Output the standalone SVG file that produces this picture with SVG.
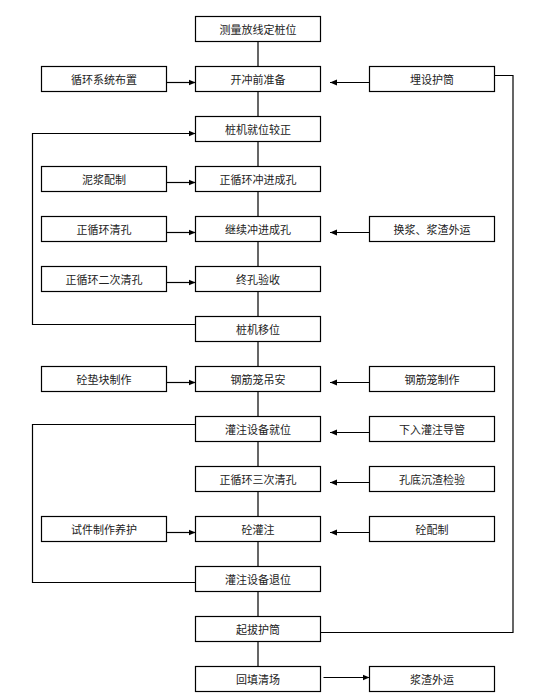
<svg xmlns="http://www.w3.org/2000/svg" width="542" height="696" viewBox="0 0 542 696">
<style>
.box rect{fill:#fff;stroke:#000;stroke-width:1.2}
.box text{font-family:"Noto Sans CJK SC","Noto Sans",sans-serif;font-size:11px;fill:#222;text-anchor:middle;dominant-baseline:central}
.conn path{fill:none;stroke:#000;stroke-width:1.2}
</style>
<defs>
<marker id="ah" markerUnits="userSpaceOnUse" markerWidth="8" markerHeight="8" viewBox="0 0 8 8" refX="7" refY="4" orient="auto">
<path d="M0,1 L7,4 L0,7 Z" fill="#000"/>
</marker>
</defs>
<g class="conn">
<path d="M258,41.5 V66.5 M258,91.5 V116.5 M258,141.5 V166.5 M258,191.5 V216.5 M258,241.5 V266.5 M258,291.5 V316.5 M258,341.5 V366.5 M258,391.5 V416.5 M258,441.5 V466.5 M258,491.5 V516.5 M258,541.5 V566.5 M258,591.5 V616.5 M258,641.5 V666.5"/>
<path d="M166.5,82.5 H195.5" marker-end="url(#ah)"/>
<path d="M166.5,182.5 H195.5" marker-end="url(#ah)"/>
<path d="M166.5,232.5 H195.5" marker-end="url(#ah)"/>
<path d="M166.5,282.5 H195.5" marker-end="url(#ah)"/>
<path d="M166.5,382.5 H195.5" marker-end="url(#ah)"/>
<path d="M166.5,532.5 H195.5" marker-end="url(#ah)"/>
<path d="M369.5,82.5 H330" marker-end="url(#ah)"/>
<path d="M369.5,232.5 H330" marker-end="url(#ah)"/>
<path d="M369.5,382.5 H330" marker-end="url(#ah)"/>
<path d="M369.5,432.5 H330" marker-end="url(#ah)"/>
<path d="M369.5,482.5 H330" marker-end="url(#ah)"/>
<path d="M369.5,532.5 H330" marker-end="url(#ah)"/>
<path d="M323.5,677.5 H369.5" marker-end="url(#ah)"/>
<path d="M195.5,324.5 H32.5 V133.5 H195.5" marker-end="url(#ah)"/>
<path d="M195.5,424.5 H32.5 V582.5 H195.5"/>
<path d="M494.5,75.5 H513 V632.5 H320.5"/>
</g>
<g id="n1" class="box"><rect x="195.5" y="16.5" width="125" height="25"/><text x="258" y="29">测量放线定桩位</text></g>
<g id="n2" class="box"><rect x="195.5" y="66.5" width="125" height="25"/><text x="258" y="79">开冲前准备</text></g>
<g id="n3" class="box"><rect x="195.5" y="116.5" width="125" height="25"/><text x="258" y="129">桩机就位较正</text></g>
<g id="n4" class="box"><rect x="195.5" y="166.5" width="125" height="25"/><text x="258" y="179">正循环冲进成孔</text></g>
<g id="n5" class="box"><rect x="195.5" y="216.5" width="125" height="25"/><text x="258" y="229">继续冲进成孔</text></g>
<g id="n6" class="box"><rect x="195.5" y="266.5" width="125" height="25"/><text x="258" y="279">终孔验收</text></g>
<g id="n7" class="box"><rect x="195.5" y="316.5" width="125" height="25"/><text x="258" y="329">桩机移位</text></g>
<g id="n8" class="box"><rect x="195.5" y="366.5" width="125" height="25"/><text x="258" y="379">钢筋笼吊安</text></g>
<g id="n9" class="box"><rect x="195.5" y="416.5" width="125" height="25"/><text x="258" y="429">灌注设备就位</text></g>
<g id="n10" class="box"><rect x="195.5" y="466.5" width="125" height="25"/><text x="258" y="479">正循环三次清孔</text></g>
<g id="n11" class="box"><rect x="195.5" y="516.5" width="125" height="25"/><text x="258" y="529">砼灌注</text></g>
<g id="n12" class="box"><rect x="195.5" y="566.5" width="125" height="25"/><text x="258" y="579">灌注设备退位</text></g>
<g id="n13" class="box"><rect x="195.5" y="616.5" width="125" height="25"/><text x="258" y="629">起拔护筒</text></g>
<g id="n14" class="box"><rect x="195.5" y="666.5" width="125" height="25"/><text x="258" y="679">回填清场</text></g>
<g id="l1" class="box"><rect x="41.5" y="66.5" width="125" height="25"/><text x="104" y="79">循环系统布置</text></g>
<g id="l2" class="box"><rect x="41.5" y="166.5" width="125" height="25"/><text x="104" y="179">泥浆配制</text></g>
<g id="l3" class="box"><rect x="41.5" y="216.5" width="125" height="25"/><text x="104" y="229">正循环清孔</text></g>
<g id="l4" class="box"><rect x="41.5" y="266.5" width="125" height="25"/><text x="104" y="279">正循环二次清孔</text></g>
<g id="l5" class="box"><rect x="41.5" y="366.5" width="125" height="25"/><text x="104" y="379">砼垫块制作</text></g>
<g id="l6" class="box"><rect x="41.5" y="516.5" width="125" height="25"/><text x="104" y="529">试件制作养护</text></g>
<g id="r1" class="box"><rect x="369.5" y="66.5" width="125" height="25"/><text x="432" y="79">埋设护筒</text></g>
<g id="r2" class="box"><rect x="369.5" y="216.5" width="125" height="25"/><text x="432" y="229">换浆、浆渣外运</text></g>
<g id="r3" class="box"><rect x="369.5" y="366.5" width="125" height="25"/><text x="432" y="379">钢筋笼制作</text></g>
<g id="r4" class="box"><rect x="369.5" y="416.5" width="125" height="25"/><text x="432" y="429">下入灌注导管</text></g>
<g id="r5" class="box"><rect x="369.5" y="466.5" width="125" height="25"/><text x="432" y="479">孔底沉渣检验</text></g>
<g id="r6" class="box"><rect x="369.5" y="516.5" width="125" height="25"/><text x="432" y="529">砼配制</text></g>
<g id="r7" class="box"><rect x="369.5" y="666.5" width="125" height="25"/><text x="432" y="679">浆渣外运</text></g>
</svg>
